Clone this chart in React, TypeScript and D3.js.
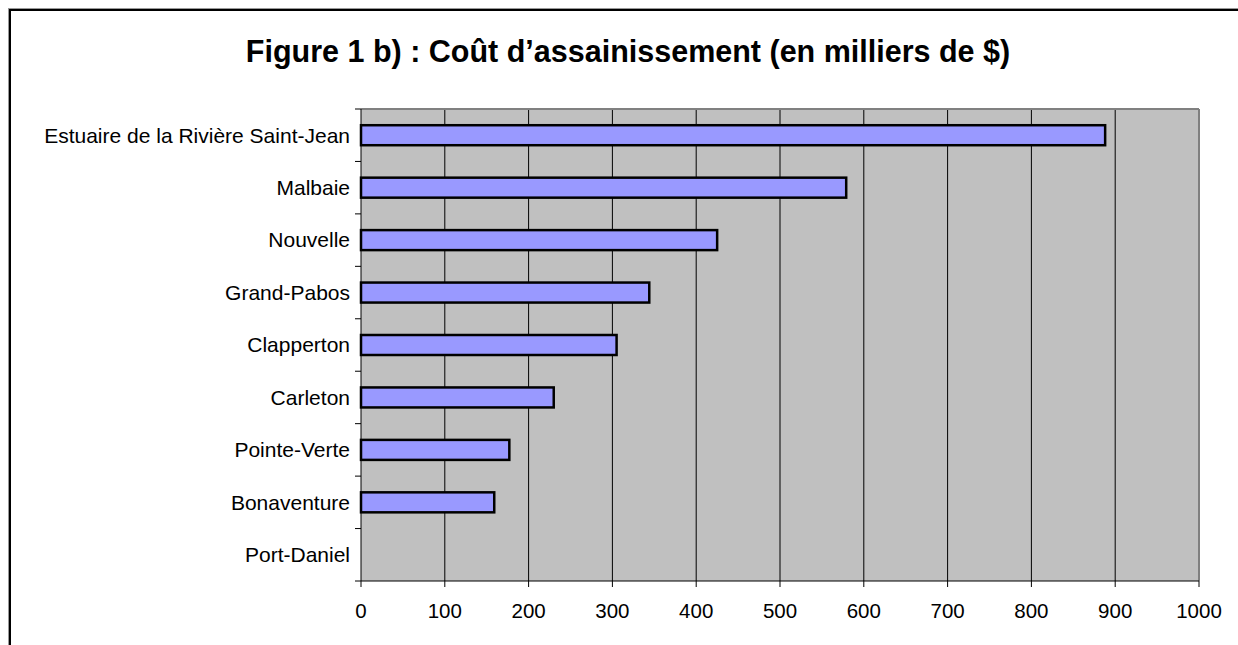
import React from "react";
import * as d3 from "d3";

const categories = [
  "Estuaire de la Rivière Saint-Jean",
  "Malbaie",
  "Nouvelle",
  "Grand-Pabos",
  "Clapperton",
  "Carleton",
  "Pointe-Verte",
  "Bonaventure",
  "Port-Daniel",
];
const values = [888, 579, 425, 344, 305, 230, 177, 159, 0];
const xTicks = [0, 100, 200, 300, 400, 500, 600, 700, 800, 900, 1000];
const title = "Figure 1 b) : Coût d’assainissement (en milliers de $)";

export default function App() {
  const W = 1238, H = 645;
  const left = 361, right = 1199, top = 109, bottom = 581;
  const x = d3.scaleLinear().domain([0, 1000]).range([left, right]);
  const y = d3.scaleBand().domain(categories).range([top, bottom]).paddingInner(0).paddingOuter(0);
  const bw = y.bandwidth();
  const barH = 20;
  const font = "Liberation Sans, Arial, sans-serif";
  return (
    <svg width={W} height={H} style={{ position: "absolute", left: 0, top: 0, display: "block" }} fontFamily={font}>
      <rect x={0} y={0} width={W} height={H} fill="#fff" />
      {/* frame: top and left edges only */}
      <line x1={8} x2={W} y1={8.5} y2={8.5} stroke="#999" strokeWidth={1} />
      <line x1={8.5} x2={8.5} y1={8} y2={H} stroke="#999" strokeWidth={1} />
      <line x1={9} x2={W} y1={10} y2={10} stroke="#000" strokeWidth={2} />
      <line x1={10} x2={10} y1={9} y2={H} stroke="#000" strokeWidth={2} />
      <text x={628} y={62} textAnchor="middle" fontSize={30.5} fontWeight="bold" fill="#000">{title}</text>
      {/* plot area */}
      <rect x={left} y={top} width={right - left} height={bottom - top} fill="#c0c0c0" />
      {xTicks.slice(1, -1).map((t) => (
        <line key={"g" + t} x1={x(t)} x2={x(t)} y1={top} y2={bottom} stroke="#000" strokeWidth={1} />
      ))}
      <line x1={left} x2={right} y1={top} y2={top} stroke="#808080" strokeWidth={2} />
      <line x1={right} x2={right} y1={top} y2={bottom} stroke="#808080" strokeWidth={2} />
      {/* bars */}
      {categories.map((c, i) =>
        values[i] > 0 ? (
          <rect
            key={c}
            x={x(0)}
            y={(y(c) as number) + bw / 2 - barH / 2}
            width={x(values[i]) - x(0)}
            height={barH}
            fill="#9999ff"
            stroke="#000"
            strokeWidth={2.5}
          />
        ) : null
      )}
      {/* axes */}
      <line x1={left} x2={left} y1={top} y2={bottom} stroke="#000" strokeWidth={1} />
      <line x1={left} x2={right} y1={bottom} y2={bottom} stroke="#000" strokeWidth={1} />
      {d3.range(categories.length + 1).map((i) => (
        <line key={"yt" + i} x1={left - 6} x2={left} y1={top + i * bw} y2={top + i * bw} stroke="#000" strokeWidth={1} />
      ))}
      {xTicks.map((t) => (
        <line key={"xt" + t} x1={x(t)} x2={x(t)} y1={bottom} y2={bottom + 6} stroke="#000" strokeWidth={1} />
      ))}
      {categories.map((c) => (
        <text key={"l" + c} x={left - 11} y={(y(c) as number) + bw / 2} dy="0.35em" textAnchor="end" fontSize={21} fill="#000">
          {c}
        </text>
      ))}
      {xTicks.map((t) => (
        <text key={"xl" + t} x={x(t)} y={611} dy="0.35em" textAnchor="middle" fontSize={20.5} fill="#000">
          {t}
        </text>
      ))}
    </svg>
  );
}
